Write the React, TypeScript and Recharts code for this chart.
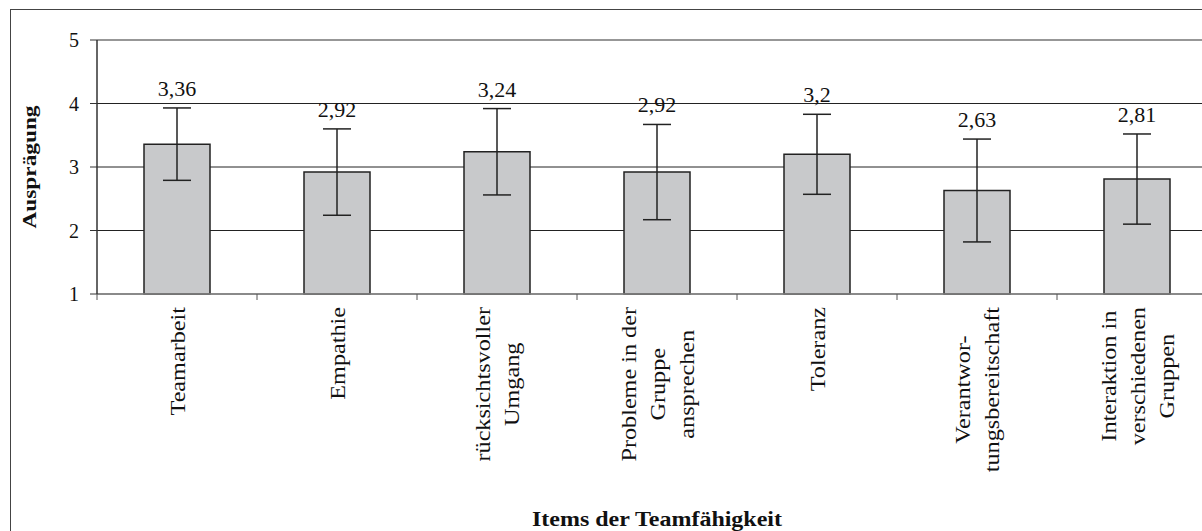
import React from "react";
import {
  BarChart,
  Bar,
  XAxis,
  YAxis,
  CartesianGrid,
  ErrorBar,
  LabelList,
  ReferenceLine,
  Label,
} from "recharts";

const categories = [
  "Teamarbeit",
  "Empathie",
  "rücksichtsvoller\nUmgang",
  "Probleme in der\nGruppe\nansprechen",
  "Toleranz",
  "Verantwor-\ntungsbereitschaft",
  "Interaktion in\nverschiedenen\nGruppen",
];
const means = [3.36, 2.92, 3.24, 2.92, 3.2, 2.63, 2.81];
const sds = [0.57, 0.68, 0.68, 0.75, 0.63, 0.81, 0.71];
const yTicks = [1, 2, 3, 4, 5];

const data = categories.map((c, i) => ({ name: c, mean: means[i], sd: sds[i] }));

const FONT = "'Liberation Serif', 'Times New Roman', serif";
const BAND = 160;

let ctx: CanvasRenderingContext2D | null = null;
function measure(text: string, fs: number): number {
  try {
    if (!ctx) ctx = document.createElement("canvas").getContext("2d");
    if (ctx) {
      ctx.font = `${fs}px 'Liberation Serif', 'Times New Roman', serif`;
      return ctx.measureText(text).width;
    }
  } catch (e) {}
  return text.length * fs * 0.45;
}

const XTick = (props: any) => {
  const { x, y, payload, index } = props;
  const half = payload && payload.offset ? payload.offset : BAND / 2;
  const lines = String(payload.value).split("\n");
  const L = 29;
  const fs = 22;
  const maxW = Math.max(...lines.map((l) => measure(l, fs)));
  return (
    <g>
      <line x1={x - half} x2={x - half} y1={y} y2={y + 6} stroke="#555" strokeWidth={1} />
      {index === categories.length - 1 && (
        <line x1={x + half} x2={x + half} y1={y} y2={y + 6} stroke="#555" strokeWidth={1} />
      )}
      <g transform={`translate(${x},${y + 13}) rotate(-90) scale(1.1,1)`}>
        {lines.map((ln, i) => (
          <text
            key={i}
            x={-maxW / 2}
            y={(i - (lines.length - 1) / 2) * L + 0.35 * fs}
            textAnchor="middle"
            fontFamily={FONT}
            fontSize={fs}
            fill="#111"
          >
            {ln}
          </text>
        ))}
      </g>
    </g>
  );
};

const ValueLabel = (props: any) => {
  const { x, y, width, height, value, index } = props;
  const m = means[index];
  const ppu = height / (m - 1);
  const top = y - sds[index] * ppu;
  return (
    <text
      x={x + width / 2}
      y={top - 12}
      textAnchor="middle"
      fontFamily={FONT}
      fontSize={22}
      fill="#111"
    >
      {String(value).replace(".", ",")}
    </text>
  );
};

export default function App() {
  return (
    <div
      style={{
        position: "fixed",
        left: 0,
        top: 0,
        width: 1202,
        height: 531,
        overflow: "hidden",
        background: "#fff",
      }}
    >
      <div
        style={{
          position: "absolute",
          left: 10,
          top: 9,
          width: 1300,
          height: 600,
          borderTop: "1.5px solid #444",
          borderLeft: "1.5px solid #444",
          boxSizing: "border-box",
        }}
      >
        <BarChart
          width={1220}
          height={530}
          data={data}
          margin={{ top: 30, right: 14, bottom: 0, left: 26 }}
          barSize={66}
        >
          <CartesianGrid vertical={false} stroke="#222" strokeWidth={1} />
          <ReferenceLine y={5} stroke="#9a9a9a" strokeWidth={1.5} />
          <XAxis
            dataKey="name"
            interval={0}
            tickLine={false}
            tickSize={0}
            tickMargin={0}
            axisLine={{ stroke: "#888", strokeWidth: 1.5 }}
            height={246}
            tick={<XTick />}
          >
            <Label
              content={(p: any) => {
                const vb = p.viewBox || {};
                return (
                  <text
                    x={vb.x + vb.width / 2}
                    y={vb.y + 232}
                    textAnchor="middle"
                    fontFamily={FONT}
                    fontWeight="bold"
                    fontSize={21}
                    textLength={250}
                    lengthAdjust="spacingAndGlyphs"
                    fill="#111"
                  >
                    Items der Teamfähigkeit
                  </text>
                );
              }}
            />
          </XAxis>
          <YAxis
            type="number"
            domain={[1, 5]}
            ticks={yTicks}
            interval={0}
            width={60}
            tickSize={7}
            tickMargin={11}
            axisLine={{ stroke: "#333", strokeWidth: 1.5 }}
            tickLine={{ stroke: "#333" }}
            tick={{ fontFamily: FONT, fontSize: 20, fill: "#111" }}
          >
            <Label
              content={(p: any) => {
                const vb = p.viewBox || {};
                const cx = 19;
                const cy = vb.y + vb.height / 2;
                return (
                  <text
                    x={cx}
                    y={cy}
                    transform={`rotate(-90, ${cx}, ${cy})`}
                    textAnchor="middle"
                    dominantBaseline="central"
                    fontFamily={FONT}
                    fontWeight="bold"
                    fontSize={18}
                    textLength={123}
                    lengthAdjust="spacingAndGlyphs"
                    fill="#111"
                  >
                    Ausprägung
                  </text>
                );
              }}
            />
          </YAxis>
          <Bar
            dataKey="mean"
            fill="#c8c9cb"
            stroke="#222"
            strokeWidth={1.5}
            isAnimationActive={false}
          >
            <ErrorBar
              dataKey="sd"
              direction="y"
              width={14}
              stroke="#222"
              strokeWidth={1.5}
              isAnimationActive={false}
            />
            <LabelList dataKey="mean" content={<ValueLabel />} />
          </Bar>
        </BarChart>
      </div>
    </div>
  );
}
